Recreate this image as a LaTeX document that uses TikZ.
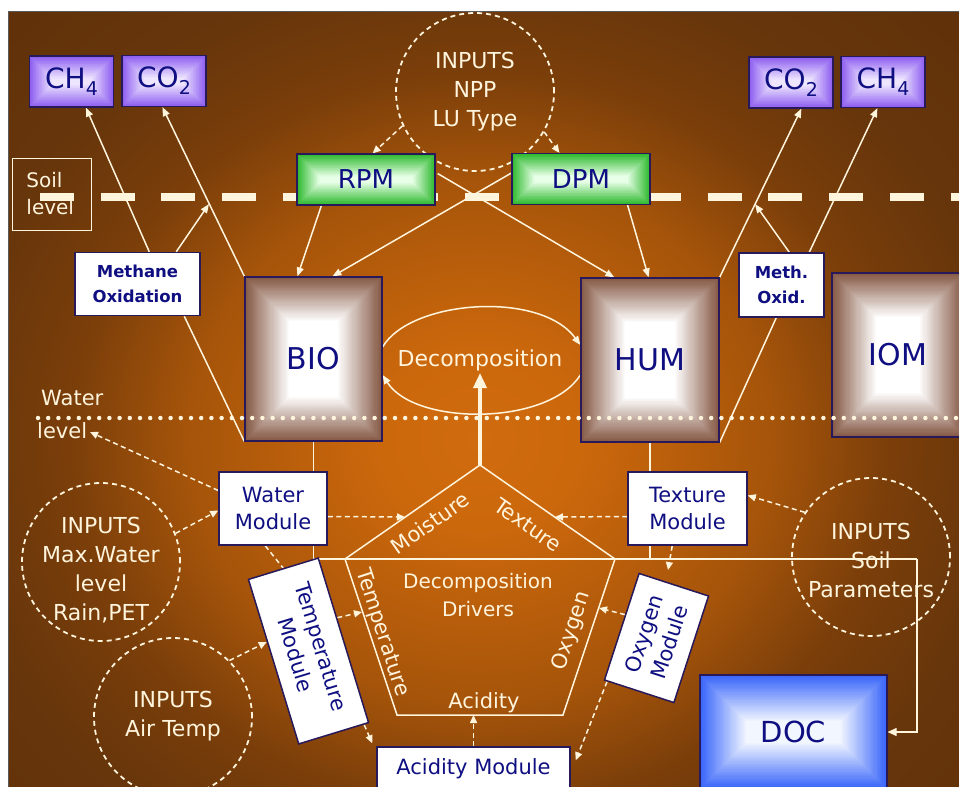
\documentclass[tikz,border=0pt]{standalone}
\usepackage{fontspec}
\setmainfont{DejaVu Sans}
\usetikzlibrary{arrows.meta,calc}
\newcommand{\myfs}[2]{\fontsize{#1}{#2}\selectfont}
\newcommand{\mysub}[1]{\raisebox{-0.45ex}{\myfs{19}{19}#1}}

\definecolor{cream}{RGB}{255,244,220}
\definecolor{navy}{RGB}{15,15,130}
\definecolor{boxline}{RGB}{40,25,90}
\definecolor{bgA}{RGB}{208,108,15}
\definecolor{bgB}{RGB}{204,104,12}
\definecolor{bgC}{RGB}{165,84,10}
\definecolor{bgD}{RGB}{122,62,10}
\definecolor{bgE}{RGB}{104,54,11}
\definecolor{bgF}{RGB}{90,45,9}
\definecolor{brownE}{RGB}{133,88,68}
\definecolor{purpleE}{RGB}{140,92,240}
\definecolor{purpleC}{RGB}{238,230,255}
\definecolor{greenE}{RGB}{45,185,45}
\definecolor{greenC}{RGB}{232,255,232}
\definecolor{blueE}{RGB}{55,100,250}
\definecolor{blueC}{RGB}{242,246,255}

\pgfdeclareradialshading{bgshade}{\pgfpoint{0bp}{0bp}}{color(0bp)=(bgA);color(5bp)=(bgB);color(15bp)=(bgC);color(21bp)=(bgD);color(26.5bp)=(bgE);color(40bp)=(bgF)}

\pgfdeclarelayer{back}
\pgfdeclarelayer{lines}
\pgfdeclarelayer{front}
\pgfsetlayers{back,lines,main,front}

\begin{document}
\begin{tikzpicture}[x=1pt,y=-1pt,
  pillow/.style n args={4}{path picture={%
    \foreach \k in {0,...,#3} {%
      \pgfmathsetmacro{\pc}{100*(1-\k/#3)}%
      \fill[#1!\pc!#2] ($(path picture bounding box.north west)+(\k*#4,\k*#4)$) rectangle ($(path picture bounding box.south east)+(-\k*#4,-\k*#4)$);
    }}},
  gasbox/.style={draw=boxline,line width=1.2pt,pillow={purpleE}{purpleC}{30}{0.75},minimum width=84pt,minimum height=51pt,inner sep=0pt,text=navy,font=\myfs{28}{30}},
  pmbox/.style={draw=boxline,line width=1.2pt,pillow={greenE}{greenC}{30}{0.75},minimum width=138pt,minimum height=51pt,inner sep=0pt,text=navy,font=\myfs{26}{28}},
  poolbox/.style={draw=boxline,line width=1.2pt,pillow={brownE}{white}{40}{1.1},minimum width=137pt,minimum height=164pt,inner sep=0pt,text=navy,font=\myfs{30}{32}},
  docbox/.style={draw=boxline,line width=1.2pt,pillow={blueE}{blueC}{40}{1.15},minimum width=187pt,minimum height=114pt,inner sep=0pt,text=navy,font=\myfs{29}{31}},
  modbox/.style={draw=boxline,fill=white,line width=1.5pt,inner sep=0pt,text=navy,align=center,font=\myfs{21}{27}},
  oxbox/.style={draw=boxline,fill=white,line width=1.5pt,inner sep=0pt,text=navy,align=center,font=\bfseries\myfs{16.5}{25}},
  inputc/.style={circle,draw=cream,line width=1.8pt,dash pattern=on 5pt off 4pt,minimum size=158pt,inner sep=0pt},
  wtext/.style={text=cream,inner sep=0pt,align=center,font=\myfs{22}{29}},
  ptext/.style={text=cream,inner sep=0pt,font=\myfs{21}{24}},
  ln/.style={draw=cream,line width=1.5pt},
  thinln/.style={draw=cream,line width=1.1pt},
  arr/.style={draw=cream,line width=1.5pt,-{Triangle[length=9pt,width=7pt]}},
  thinarr/.style={draw=cream,line width=1.1pt,-{Triangle[length=9pt,width=8pt]}},
  darr/.style={draw=cream,line width=1.5pt,dash pattern=on 5pt off 3.5pt,-{Triangle[length=8pt,width=7pt]}},
  dln/.style={draw=cream,line width=1.5pt,dash pattern=on 5pt off 3.5pt},
  thickarr/.style={draw=cream,line width=3.5pt,-{Triangle[length=15pt,width=13pt]}}
]
\useasboundingbox (0,0) rectangle (959,787);

% background
\begin{pgfonlayer}{back}
\fill[white] (0,0) rectangle (959,787);
\begin{scope}
\clip (8,11) rectangle (959,787);
\shade[shading=bgshade] (-10,0) rectangle (970,880);
\end{scope}
\draw[black!65,line width=1pt] (8,11) rectangle (962,790);
\coordinate (soilA) at (40,197);
\coordinate (soilB) at (965,197);
\draw[cream,line width=8pt,dash pattern=on 34pt off 26.7pt] (soilA) -- (soilB);
\end{pgfonlayer}

% coordinates
\coordinate (sl) at (209,204);
\coordinate (sr) at (755,204);
\coordinate (p1) at (480,465);
\coordinate (p2) at (615,559);
\coordinate (p3) at (563,715);
\coordinate (p4) at (397,715);
\coordinate (p5) at (345,559);
\coordinate (dtip) at (480,373);
\coordinate (rt) at (917,559);
\coordinate (wlarrow) at (90,432);
\coordinate (mpt) at (405,517);
\coordinate (tpt) at (555,517);
\coordinate (tempt) at (362,612);
\coordinate (apt) at (473.5,715);
\coordinate (opt) at (599,608);
\coordinate (waterA) at (38,418);
\coordinate (waterB) at (962,418);

% nodes
\node[gasbox] (ch4l) at (71.5,81.5) {CH\mysub{4}};
\node[gasbox] (co2l) at (164,81) {CO\mysub{2}};
\node[gasbox] (co2r) at (791,82.5) {CO\mysub{2}};
\node[gasbox] (ch4r) at (883,82) {CH\mysub{4}};

\node[inputc] (npp) at (475,92) {};
\node[wtext] (npptext) at (475,92) {INPUTS\\NPP\\LU Type};

\node[pmbox] (rpm) at (366,179.5) {RPM};
\node[pmbox] (dpm) at (581,179) {DPM};

\node[draw=cream,line width=0.8pt,minimum width=79pt,minimum height=72pt,text width=50pt,align=left,text=cream,font=\myfs{20}{27},inner sep=0pt] (soilbox) at (51.5,194) {Soil\\level};

\node[oxbox,minimum width=125pt,minimum height=63pt] (mo) at (137.5,284) {Methane\\Oxidation};
\node[oxbox,minimum width=85pt,minimum height=64pt] (mox) at (781.5,285) {Meth.\\Oxid.};

\node[poolbox] (bio) at (313.5,359) {BIO};
\node[poolbox,minimum width=138pt] (hum) at (650,360) {HUM};
\node[poolbox,minimum width=132pt] (iom) at (898,355) {IOM};

\node[text=cream,inner sep=0pt,font=\myfs{22}{24}] (decomp) at (480,360) {Decomposition};

\node[text=cream,inner sep=0pt,anchor=west,font=\myfs{21}{24}] (wlt1) at (41,398) {Water};
\node[text=cream,inner sep=0pt,anchor=west,font=\myfs{21}{24}] (wlt2) at (37,431) {level};

\node[modbox,minimum width=108pt,minimum height=73pt] (watmod) at (273,508.5) {Water\\Module};
\node[modbox,minimum width=119pt,minimum height=73pt] (texmod) at (687.5,508.5) {Texture\\Module};
\node[modbox,minimum width=172pt,minimum height=73pt,rotate=-73] (tempmod) at (308.5,651) {Temperature\\Module};
\node[modbox,minimum width=112pt,minimum height=73pt,rotate=72] (oxymod) at (656.5,638) {Oxygen\\Module};
\node[modbox,minimum width=193pt,minimum height=44pt] (acid) at (473.5,769) {Acidity Module};
\node[docbox] (doc) at (793.5,732) {DOC};

\node[inputc] (maxw) at (101,562) {};
\node[wtext] (maxwtext) at (101,570) {INPUTS\\Max.Water\\level\\Rain,PET};
\node[inputc] (airc) at (173,717) {};
\node[wtext] (airtext) at (173,716) {INPUTS\\Air Temp};
\node[inputc] (soilc) at (871,557) {};
\node[wtext] (soiltext) at (871,560) {INPUTS\\Soil\\Parameters};

\node[ptext,rotate=35] (lmoist) at (430,523) {Moisture};
\node[ptext,rotate=-35] (ltex) at (528,525) {Texture};
\node[ptext,rotate=-72] (ltemp) at (382,633) {Temperature};
\node[ptext,rotate=72] (loxy) at (572,631) {Oxygen};
\node[ptext] (lacid) at (484,703) {Acidity};
\node[text=cream,inner sep=0pt,align=center,font=\myfs{20}{28}] (drivers) at (478,595) {Decomposition\\Drivers};

% connectors
\begin{pgfonlayer}{lines}
\draw[arr] ($(rpm.south west)+(25,0)$) -- ($(bio.north west)+(53,0)$);
\draw[arr] ($(rpm.east)+(2,-6)$) -- ($(hum.north west)+(34,0)$);
\draw[arr] ($(dpm.west)+(0,-6)$) -- ($(bio.north west)+(88,0)$);
\draw[arr] ($(dpm.south east)+(-23,0)$) -- ($(hum.north east)+(-71,0)$);

\draw[arr] (bio.north west) -- ($(co2l.south west)+(41,0)$);
\draw[arr] ($(mo.north west)+(75,0)$) -- ($(ch4l.south west)+(57,0)$);
\draw[ln] (bio.south west) -- ($(mo.south west)+(110,0)$);
\draw[arr] ($(mo.north west)+(102,0)$) -- (sl);
\draw[arr] (hum.north east) -- ($(co2r.south west)+(53,0)$);
\draw[arr] ($(mox.north west)+(71,0)$) -- ($(ch4r.south west)+(37,0)$);
\draw[ln] (hum.south east) -- ($(mox.south west)+(38,0)$);
\draw[arr] ($(mox.north west)+(51,0)$) -- (sr);

\draw[arr] ($(bio.east)+(0,-12)$) .. controls (410,300) and (540,290) .. ($(hum.west)+(0,-15)$);
\draw[arr] ($(hum.west)+(0,15)$) .. controls (548,426) and (415,426) .. ($(bio.east)+(0,16)$);
\draw[thickarr] (p1) -- (dtip);

\draw[ln] (p1) -- (p2) -- (p3) -- (p4) -- (p5) -- cycle;
\draw[thinln] (bio.south) |- (rt);
\draw[thinarr] (rt) |- (doc.east);
\draw[thinln] (hum.south) -- (hum.south |- rt);

\draw[darr] (npp.205) -- ($(rpm.north east)+(-63,0)$);
\draw[darr] (npp.-30) -- ($(dpm.north west)+(48,0)$);
\draw[darr] ($(watmod.west)+(0,-18)$) -- (wlarrow);
\draw[darr] (maxw.21) -- ($(watmod.west)+(0,2)$);
\draw[darr] ($(watmod.east)+(0,8)$) -- (mpt);
\draw[darr] ($(texmod.west)+(0,8)$) -- (tpt);
\draw[darr] (soilc.146) -- ($(texmod.east)+(0,-13)$);
\draw[dln] ($(watmod.south west)+(47,0)$) -- (tempmod.west);
\draw[darr] (airc.45) -- ($(tempmod.south)!0.24!(tempmod.south west)$);
\draw[darr] ($(tempmod.north)!0.27!(tempmod.north west)$) -- (tempt);
\draw[darr] ($(tempmod.north east)!0.15!(tempmod.east)$) -- ($(acid.north west)+(-4,-3)$);
\draw[darr] (acid.north) -- (apt);
\draw[darr] ($(oxymod.north west)!0.1!(oxymod.west)$) -- ($(acid.north east)+(5,14)$);
\draw[darr] ($(oxymod.north)!0.22!(oxymod.north east)$) -- (opt);
\draw[darr] ($(texmod.south west)+(45,0)$) -- ($(oxymod.east)+(-6,-14)$);
\end{pgfonlayer}

\begin{pgfonlayer}{front}
\draw[cream,line width=4.5pt,line cap=round,dash pattern=on 0pt off 10.2pt] (waterA) -- (waterB);
\end{pgfonlayer}
\end{tikzpicture}
\end{document}
